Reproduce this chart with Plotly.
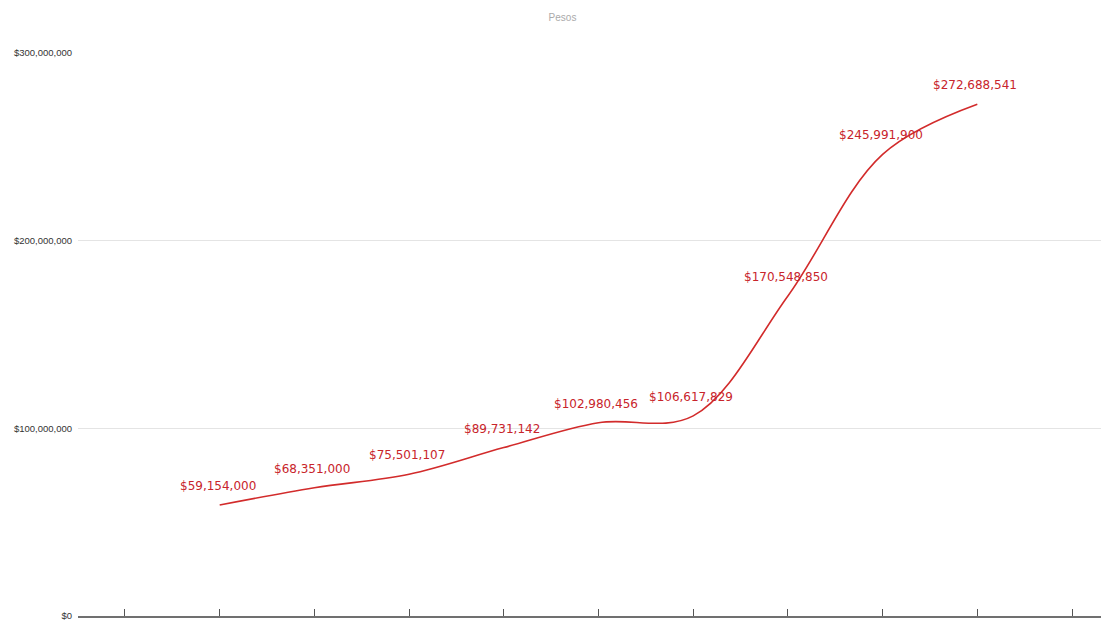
import plotly.graph_objects as go

# Data
positions = [1, 2, 3, 4, 5, 6, 7, 8, 9]
values = [59154000, 68351000, 75501107, 89731142, 102980456,
          106617829, 170548850, 245991900, 272688541]
tick_positions = list(range(0, 11))
tick_labels = [""] * 11
y_ticks = [0, 100000000, 200000000, 300000000]
y_tick_labels = ["$0", "$100,000,000", "$200,000,000", "$300,000,000"]

RED = "#d22b2b"

fig = go.Figure()
fig.add_trace(go.Scatter(
    x=positions, y=values, mode="lines",
    line=dict(color=RED, width=1.6, shape="spline", smoothing=1.0),
    hoverinfo="skip", showlegend=False,
))

for x, v in zip(positions, values):
    fig.add_annotation(
        x=x, y=v, text=f"${v:,.0f}", showarrow=False,
        xanchor="center", yanchor="middle", yshift=19, xshift=-2,
        font=dict(family="DejaVu Sans", size=12, color="#c8242b"),
    )

fig.update_layout(
    width=1109, height=622,
    margin=dict(l=70, r=0, t=45, b=14),
    paper_bgcolor="white", plot_bgcolor="white",
    title=dict(text="Pesos", x=0.5, xanchor="center", y=0.9855, yanchor="middle",
               font=dict(family="Liberation Sans", size=10, color="#aaaaaa")),
    xaxis=dict(range=[-0.496, 10.475], tickmode="array", tickvals=tick_positions,
               ticktext=tick_labels, showgrid=False, zeroline=False,
               showline=True, linecolor="#707070", linewidth=1.5,
               ticks="inside", ticklen=7, tickcolor="#555", tickwidth=1.2),
    yaxis=dict(range=[0, 300000000], tickmode="array", tickvals=y_ticks,
               ticktext=y_tick_labels, showgrid=True, gridcolor="#e4e4e4",
               gridwidth=1, zeroline=False, showline=False, ticks="",
               ticklabelstandoff=5,
               tickfont=dict(family="Liberation Sans", size=9.5, color="#333333")),
)

fig.write_html("out.html")
